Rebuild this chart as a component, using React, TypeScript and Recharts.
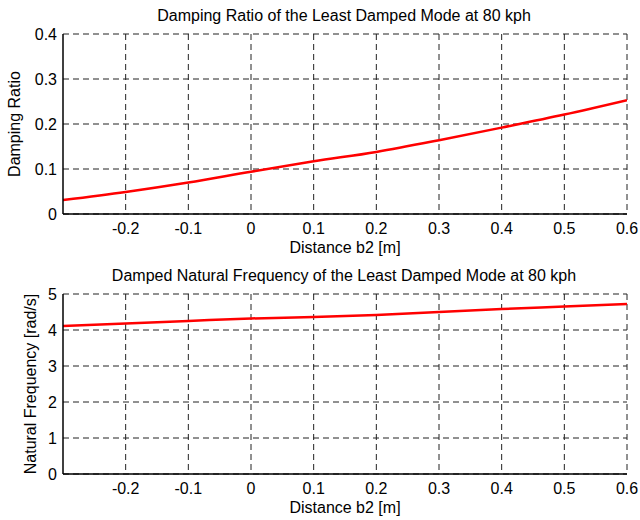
import { LineChart, Line, XAxis, YAxis, CartesianGrid } from "recharts";

const distance = [-0.3, -0.2, -0.1, 0, 0.1, 0.2, 0.3, 0.4, 0.5, 0.6];
const dampingRatio = [0.031, 0.049, 0.07, 0.094, 0.117, 0.138, 0.164, 0.192, 0.221, 0.253];
const naturalFreq = [4.11, 4.18, 4.25, 4.32, 4.36, 4.42, 4.5, 4.58, 4.65, 4.72];

const xTicks = [-0.2, -0.1, 0, 0.1, 0.2, 0.3, 0.4, 0.5, 0.6];
const dampingTicks = [0, 0.1, 0.2, 0.3, 0.4];
const freqTicks = [0, 1, 2, 3, 4, 5];

const dampingData = distance.map((x, i) => ({ x, y: dampingRatio[i] }));
const freqData = distance.map((x, i) => ({ x, y: naturalFreq[i] }));

const font = "'Liberation Sans', Arial, Helvetica, sans-serif";
const tickStyle = { fontSize: 16, fill: "#000", fontFamily: font };
const labelStyle = { fontSize: 16, fill: "#000", fontFamily: font };
const fmt = (v: number) => String(Number(v.toFixed(1)));

type PanelProps = {
  title: string;
  yLabel: string;
  yLabelOffset: number;
  data: { x: number; y: number }[];
  yDomain: [number, number];
  yTicks: number[];
};

function Panel({ title, yLabel, yLabelOffset, data, yDomain, yTicks }: PanelProps) {
  return (
    <LineChart
      width={640}
      height={260}
      data={data}
      margin={{ top: 34, right: 13, bottom: 0, left: 0 }}
      style={{ fontFamily: font }}
    >
      <text x={344} y={21} textAnchor="middle" fontSize={16} fontFamily={font} fill="#000">
        {title}
      </text>
      <CartesianGrid
        stroke="#222"
        strokeDasharray="6 4"
        horizontalValues={yTicks}
        verticalValues={xTicks}
      />
      <XAxis
        dataKey="x"
        type="number"
        domain={[-0.3, 0.6]}
        ticks={xTicks}
        tickFormatter={fmt}
        allowDataOverflow
        height={46}
        tick={tickStyle}
        tickLine={false}
        tickSize={6}
        tickMargin={3}
        axisLine={{ stroke: "#000", strokeWidth: 1.5 }}
        label={{
          value: "Distance b2 [m]",
          position: "insideBottom",
          offset: 7,
          style: labelStyle,
        }}
      />
      <XAxis
        xAxisId="top"
        orientation="top"
        dataKey="x"
        type="number"
        domain={[-0.3, 0.6]}
        height={0}
        tick={false}
        tickLine={false}
        axisLine={{ stroke: "#000", strokeWidth: 1.5 }}
      />
      <YAxis
        type="number"
        domain={yDomain}
        ticks={yTicks}
        tickFormatter={fmt}
        width={63}
        tick={tickStyle}
        tickLine={false}
        tickSize={4}
        tickMargin={2}
        axisLine={{ stroke: "#000", strokeWidth: 1.5 }}
        label={{
          value: yLabel,
          angle: -90,
          position: "insideLeft",
          offset: yLabelOffset,
          style: { ...labelStyle, textAnchor: "middle" },
        }}
      />
      <YAxis
        yAxisId="right"
        orientation="right"
        type="number"
        domain={yDomain}
        width={0}
        tick={false}
        tickLine={false}
        axisLine={{ stroke: "#000", strokeWidth: 1.5 }}
      />
      <Line
        type="monotone"
        dataKey="y"
        stroke="#ff0000"
        strokeWidth={2.5}
        dot={false}
        isAnimationActive={false}
      />
    </LineChart>
  );
}

export default function App() {
  return (
    <div style={{ position: "absolute", left: 0, top: 0, width: 640, height: 520, background: "#fff" }}>
      <Panel
        title="Damping Ratio of the Least Damped Mode at 80 kph"
        yLabel="Damping Ratio"
        yLabelOffset={14}
        data={dampingData}
        yDomain={[0, 0.4]}
        yTicks={dampingTicks}
      />
      <Panel
        title="Damped Natural Frequency of the Least Damped Mode at 80 kph"
        yLabel="Natural Frequency [rad/s]"
        yLabelOffset={30}
        data={freqData}
        yDomain={[0, 5]}
        yTicks={freqTicks}
      />
    </div>
  );
}
